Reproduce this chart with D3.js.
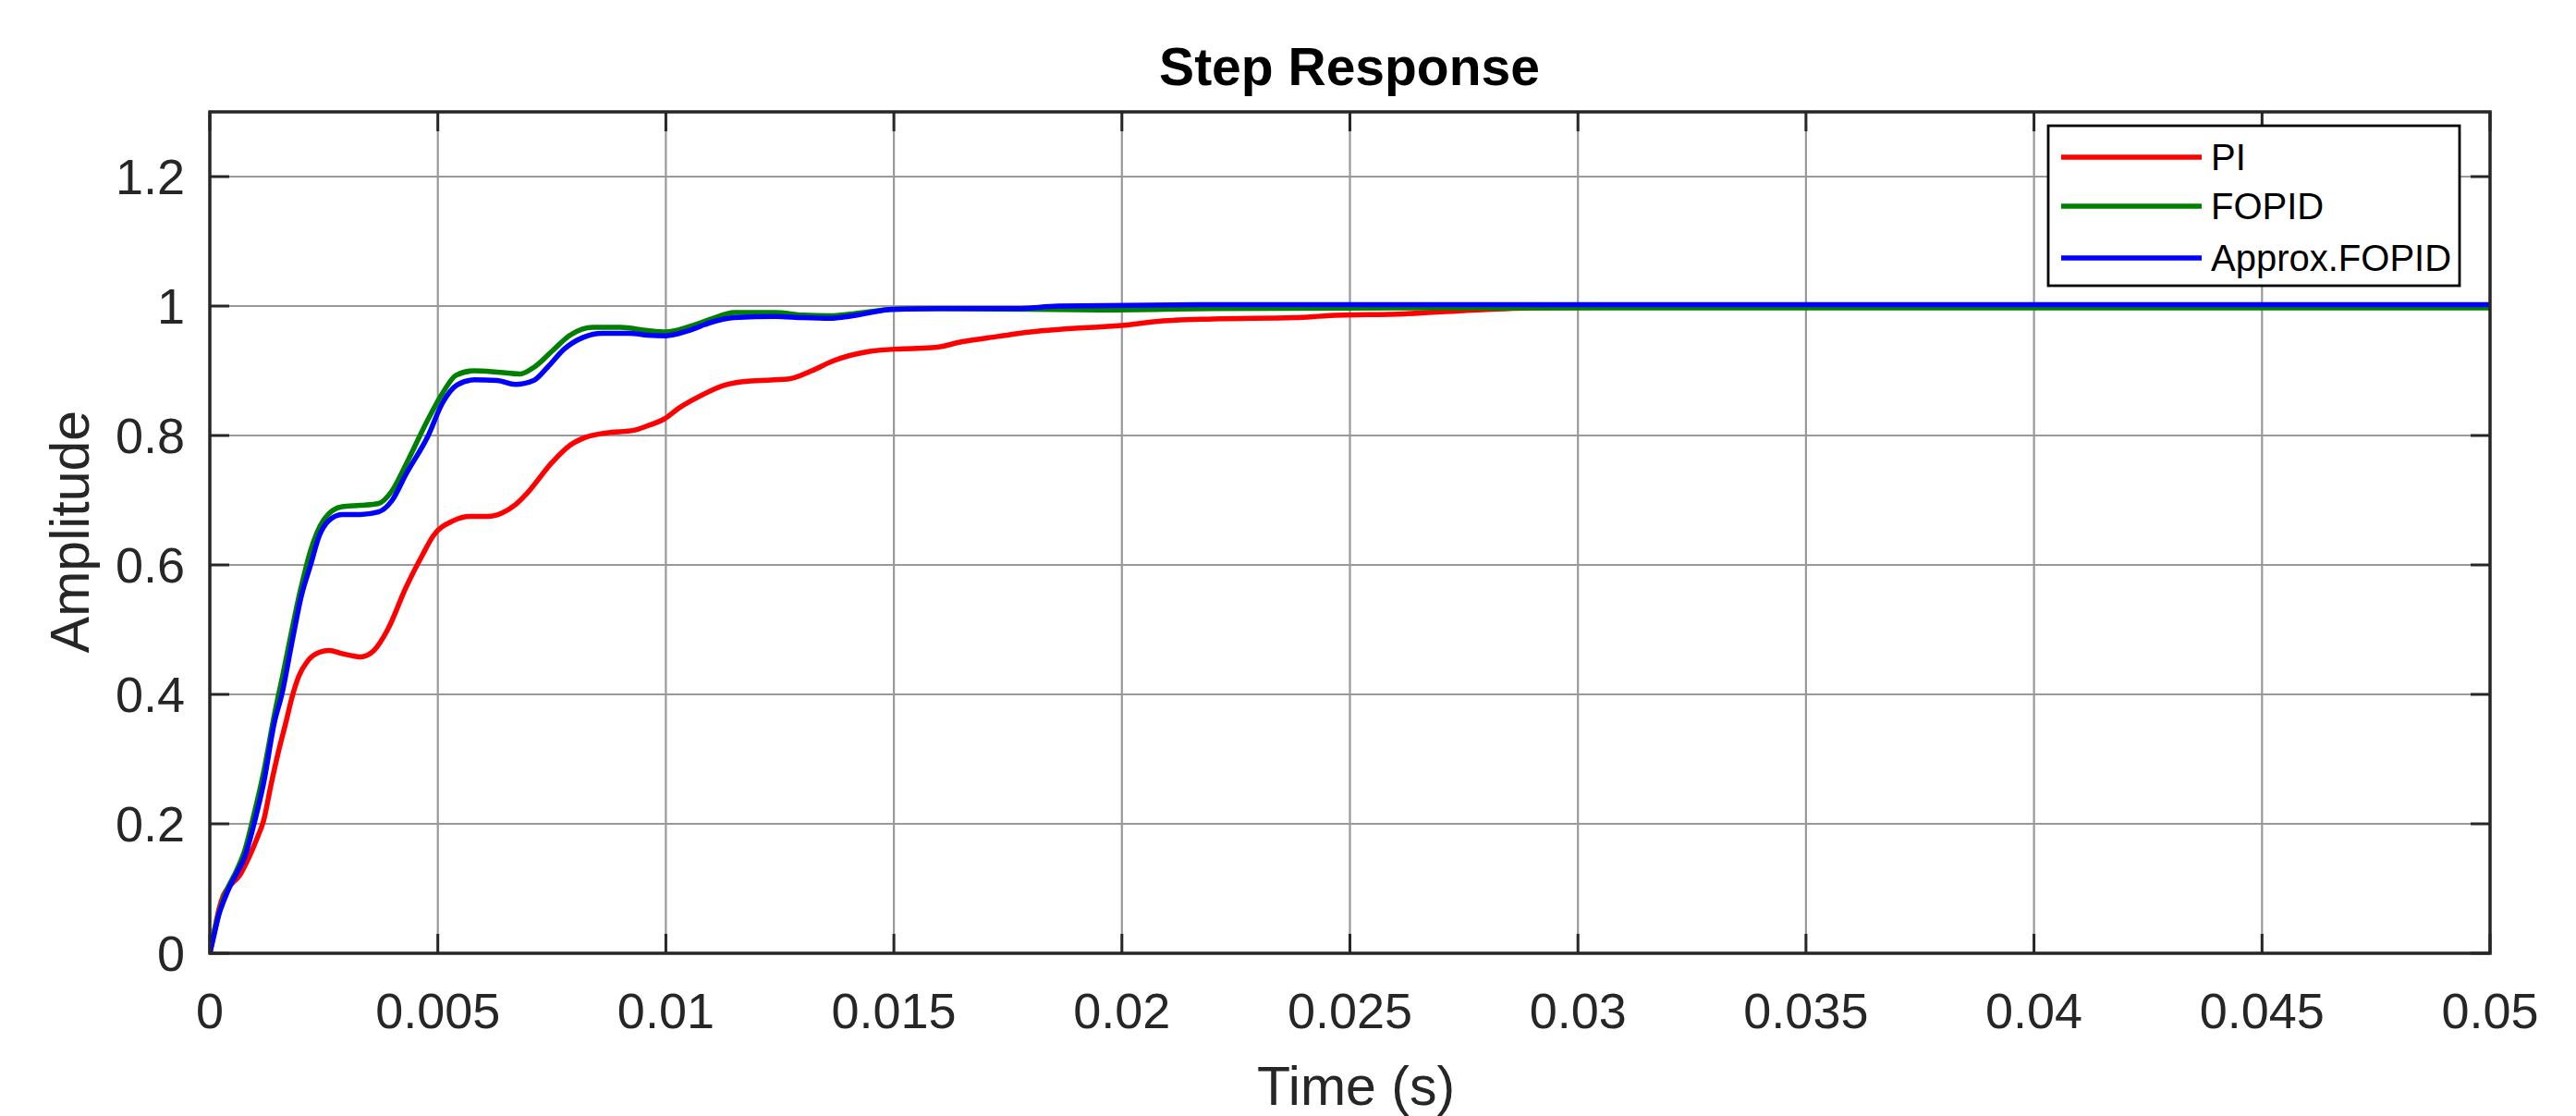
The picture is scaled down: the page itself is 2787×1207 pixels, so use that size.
<!DOCTYPE html>
<html>
<head>
<meta charset="utf-8">
<script src="https://cdn.jsdelivr.net/npm/d3@7"></script>
<style>
  html, body { margin: 0; padding: 0; background: #fff; }
  svg { display: block; }
  text { font-family: "Liberation Sans", Arial, Helvetica, sans-serif; }
</style>
</head>
<body>
<svg id="chart" width="2787" height="1207"></svg>
<script>
// ---- data (time in seconds, amplitude) ----
const xTickValues = [0, 0.005, 0.01, 0.015, 0.02, 0.025, 0.03, 0.035, 0.04, 0.045, 0.05];
const xTickLabels = ["0", "0.005", "0.01", "0.015", "0.02", "0.025", "0.03", "0.035", "0.04", "0.045", "0.05"];
const yTickValues = [0, 0.2, 0.4, 0.6, 0.8, 1, 1.2];
const yTickLabels = ["0", "0.2", "0.4", "0.6", "0.8", "1", "1.2"];

const seriesNames = ["PI", "FOPID", "Approx.FOPID"];
const seriesColors = ["#ff0000", "#008000", "#0000ff"];

const piTime = [0, 0.0001, 0.0002, 0.0003, 0.00045, 0.00065, 0.00087, 0.00105, 0.00118, 0.00135, 0.0015, 0.00168, 0.0018, 0.00195, 0.00215, 0.0024, 0.00262, 0.0029, 0.0033, 0.0036, 0.0039, 0.0043, 0.00466, 0.0049, 0.00533, 0.0057, 0.0061, 0.0064, 0.0067, 0.00696, 0.0075, 0.0079, 0.00823, 0.0087, 0.0093, 0.0096, 0.00995, 0.0103, 0.01067, 0.0113, 0.0118, 0.01267, 0.0132, 0.01366, 0.01447, 0.0152, 0.0159, 0.0165, 0.01728, 0.018, 0.01863, 0.01999, 0.0209, 0.022, 0.02378, 0.0245, 0.0262, 0.0275, 0.029, 0.032, 0.036, 0.05];
const piAmp  = [0, 0.035, 0.068, 0.09, 0.105, 0.12, 0.15, 0.18, 0.205, 0.263, 0.31, 0.36, 0.395, 0.428, 0.452, 0.465, 0.468, 0.463, 0.458, 0.468, 0.50, 0.565, 0.615, 0.645, 0.668, 0.675, 0.675, 0.68, 0.693, 0.711, 0.758, 0.785, 0.797, 0.804, 0.808, 0.815, 0.825, 0.843, 0.858, 0.878, 0.884, 0.887, 0.900, 0.915, 0.930, 0.934, 0.936, 0.945, 0.953, 0.960, 0.964, 0.970, 0.977, 0.980, 0.982, 0.985, 0.988, 0.993, 0.997, 0.999, 1.0, 1.0];

const fopidTime = [0, 0.0001, 0.0003, 0.0006, 0.00077, 0.00097, 0.00118, 0.00142, 0.0016, 0.002, 0.0022, 0.0025, 0.0029, 0.0033, 0.0037, 0.004, 0.0043, 0.00475, 0.0051, 0.0054, 0.0058, 0.0063, 0.0068, 0.0071, 0.0075, 0.0079, 0.0084, 0.009, 0.0096, 0.01, 0.0105, 0.011, 0.0115, 0.0124, 0.013, 0.0136, 0.0141, 0.015, 0.016, 0.018, 0.0195, 0.022, 0.026, 0.03, 0.05];
const fopidAmp  = [0, 0.035, 0.085, 0.13, 0.16, 0.215, 0.28, 0.37, 0.43, 0.565, 0.62, 0.67, 0.69, 0.692, 0.695, 0.715, 0.755, 0.82, 0.865, 0.893, 0.90, 0.898, 0.895, 0.905, 0.93, 0.955, 0.967, 0.967, 0.962, 0.96, 0.968, 0.98, 0.99, 0.99, 0.986, 0.985, 0.988, 0.995, 0.996, 0.995, 0.994, 0.996, 0.997, 0.997, 0.997];

const approxTime = [0, 0.0001, 0.0002, 0.0003, 0.00045, 0.0006, 0.00077, 0.00097, 0.00118, 0.00142, 0.00158, 0.0018, 0.002, 0.00221, 0.0024, 0.0026, 0.0029, 0.0033, 0.0037, 0.004, 0.0043, 0.00479, 0.0051, 0.00542, 0.0058, 0.0063, 0.0067, 0.0071, 0.0074, 0.00778, 0.0082, 0.0086, 0.0092, 0.0096, 0.01, 0.0105, 0.011, 0.0115, 0.0124, 0.013, 0.0136, 0.0141, 0.015, 0.016, 0.0177, 0.0186, 0.022, 0.03, 0.05];
const approxAmp  = [0, 0.03, 0.06, 0.08, 0.105, 0.125, 0.15, 0.2, 0.263, 0.358, 0.40, 0.48, 0.55, 0.60, 0.645, 0.668, 0.678, 0.678, 0.682, 0.70, 0.74, 0.80, 0.85, 0.878, 0.886, 0.885, 0.879, 0.885, 0.905, 0.934, 0.952, 0.958, 0.958, 0.955, 0.954, 0.962, 0.975, 0.982, 0.984, 0.982, 0.981, 0.985, 0.995, 0.996, 0.996, 1.0, 1.002, 1.002, 1.002];

const seriesTimes = [piTime, fopidTime, approxTime];
const seriesAmps = [piAmp, fopidAmp, approxAmp];

// ---- layout ----
const svg = d3.select("#chart");
const L = 227, R = 2694, T = 121, B = 1031;
const axisColor = "#262626";

const x = d3.scaleLinear().domain([0, 0.05]).range([L, R]);
const y = d3.scaleLinear().domain([0, 1.3]).range([B, T]);

// grid
const grid = svg.append("g");
grid.selectAll("line.gx").data(xTickValues.slice(1, -1)).enter().append("line")
  .attr("x1", d => x(d)).attr("x2", d => x(d)).attr("y1", T).attr("y2", B)
  .attr("stroke", "#999999").attr("stroke-width", 2.2);
grid.selectAll("line.gy").data(yTickValues.slice(1)).enter().append("line")
  .attr("x1", L).attr("x2", R).attr("y1", d => y(d)).attr("y2", d => y(d))
  .attr("stroke", "#999999").attr("stroke-width", 2.2);

// ticks (inward, all four sides)
const tickLen = 21;
const ticks = svg.append("g").attr("stroke", axisColor).attr("stroke-width", 3);
xTickValues.forEach(v => {
  ticks.append("line").attr("x1", x(v)).attr("x2", x(v)).attr("y1", B).attr("y2", B - tickLen);
  ticks.append("line").attr("x1", x(v)).attr("x2", x(v)).attr("y1", T).attr("y2", T + tickLen);
});
yTickValues.forEach(v => {
  ticks.append("line").attr("x1", L).attr("x2", L + tickLen).attr("y1", y(v)).attr("y2", y(v));
  ticks.append("line").attr("x1", R).attr("x2", R - tickLen).attr("y1", y(v)).attr("y2", y(v));
});

// series
svg.append("clipPath").attr("id", "clip").append("rect")
  .attr("x", L).attr("y", T).attr("width", R - L).attr("height", B - T);
const line = d3.line().x(d => x(d[0])).y(d => y(d[1])).curve(d3.curveMonotoneX);
const lines = svg.append("g").attr("clip-path", "url(#clip)");
seriesNames.forEach((name, i) => {
  const pts = seriesTimes[i].map((t, j) => [t, seriesAmps[i][j]]);
  lines.append("path").datum(pts)
    .attr("d", line)
    .attr("fill", "none")
    .attr("stroke", seriesColors[i])
    .attr("stroke-width", 5.5)
    .attr("stroke-linejoin", "round");
});

// box
svg.append("rect").attr("x", L).attr("y", T).attr("width", R - L).attr("height", B - T)
  .attr("fill", "none").attr("stroke", axisColor).attr("stroke-width", 3.5);

// tick labels
const tickFont = 54;
svg.append("g").selectAll("text").data(xTickValues).enter().append("text")
  .attr("x", d => x(d)).attr("y", 1112)
  .attr("text-anchor", "middle").attr("font-size", tickFont).attr("fill", axisColor)
  .text((d, i) => xTickLabels[i]);
svg.append("g").selectAll("text").data(yTickValues).enter().append("text")
  .attr("x", 200).attr("y", d => y(d)).attr("dy", "0.36em")
  .attr("text-anchor", "end").attr("font-size", tickFont).attr("fill", axisColor)
  .text((d, i) => yTickLabels[i]);

// axis labels and title
svg.append("text").attr("x", 1467).attr("y", 1195).attr("text-anchor", "middle")
  .attr("font-size", 59).attr("fill", axisColor).text("Time (s)");
svg.append("text").attr("transform", "translate(96,575) rotate(-90)").attr("text-anchor", "middle")
  .attr("font-size", 59).attr("fill", axisColor).text("Amplitude");
svg.append("text").attr("x", 1460).attr("y", 92).attr("text-anchor", "middle")
  .attr("font-size", 57).attr("font-weight", "bold").attr("fill", "#000").text("Step Response");

// legend
const lg = svg.append("g");
lg.append("rect").attr("x", 2216).attr("y", 136).attr("width", 445).attr("height", 173)
  .attr("fill", "#fff").attr("stroke", "#000").attr("stroke-width", 2.8);
const legendY = [170, 223, 279];
seriesNames.forEach((name, i) => {
  lg.append("line").attr("x1", 2230).attr("x2", 2382).attr("y1", legendY[i]).attr("y2", legendY[i])
    .attr("stroke", seriesColors[i]).attr("stroke-width", 5.5);
  lg.append("text").attr("x", 2392).attr("y", legendY[i]).attr("dy", "0.36em")
    .attr("font-size", 40).attr("fill", "#000").text(name);
});
</script>
</body>
</html>
